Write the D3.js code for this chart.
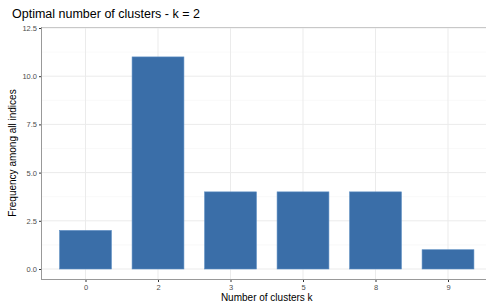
<!DOCTYPE html>
<html lang="en">
<head>
  <meta charset="UTF-8">
  <script src="https://d3js.org/d3.v7.min.js"></script>
  <title>Optimal number of clusters</title>
  <style>
    body { margin: 0; background: white; }
    text { font-family: "Liberation Sans", Arial, sans-serif; }
    .tick text { fill: #4d4d4d; font-size: 7.5px; }
  </style>
</head>
<body>
  <div id="chart"></div>
  <script>
    const clusters = ["0", "2", "3", "5", "8", "9"];
    const frequency = [2, 11, 4, 4, 4, 1];
    const yTicks = [0, 2.5, 5, 7.5, 10, 12.5];

    const width = 486, height = 308;
    const pLeft = 42, pRight = 491.5, pTop = 27, pBottom = 279;

    const svg = d3.select("#chart").append("svg")
      .attr("width", width)
      .attr("height", height);

    // ggplot style discrete axis: 0.6 step expansion on each side
    const x = d3.scalePoint()
      .domain(clusters)
      .range([pLeft, pRight])
      .padding(0.6);
    const barW = x.step() * 0.715;

    const y = d3.scaleLinear().domain([0, 12.5]).range([269, 28]);

    // minor grid
    const minor = d3.range(1.25, 12.5, 2.5);
    svg.append("g").selectAll("line").data(minor).join("line")
      .attr("x1", pLeft).attr("x2", pRight)
      .attr("y1", d => y(d)).attr("y2", d => y(d))
      .attr("stroke", "#f2f2f2").attr("stroke-width", 0.5);

    // major grid
    svg.append("g").selectAll("line").data(yTicks).join("line")
      .attr("x1", pLeft).attr("x2", pRight)
      .attr("y1", d => y(d)).attr("y2", d => y(d))
      .attr("stroke", "#ebebeb").attr("stroke-width", 1);
    svg.append("g").selectAll("line").data(clusters).join("line")
      .attr("x1", d => x(d)).attr("x2", d => x(d))
      .attr("y1", pTop).attr("y2", pBottom)
      .attr("stroke", "#ebebeb").attr("stroke-width", 1);

    // top edge
    svg.append("line")
      .attr("x1", pLeft).attr("x2", pRight).attr("y1", pTop + 0.5).attr("y2", pTop + 0.5)
      .attr("stroke", "#c8c8c8").attr("stroke-width", 1);

    // bars
    svg.append("g").selectAll("rect").data(clusters).join("rect")
      .attr("x", d => x(d) - barW / 2)
      .attr("width", barW)
      .attr("y", (d, i) => y(frequency[i]))
      .attr("height", (d, i) => y(0) - y(frequency[i]))
      .attr("fill", "#3a6ea8")
      .attr("stroke", "#5a8cc2")
      .attr("stroke-width", 0.6);

    // axes
    const yAxis = svg.append("g")
      .attr("transform", `translate(${pLeft},0)`)
      .call(d3.axisLeft(y).tickValues(yTicks).tickFormat(d3.format(".1f")).tickSize(3).tickPadding(2));
    yAxis.select(".domain").remove();
    yAxis.selectAll(".tick line").attr("stroke", "#333");
    svg.append("line")
      .attr("x1", pLeft - 0.5).attr("x2", pLeft - 0.5).attr("y1", pTop).attr("y2", pBottom)
      .attr("stroke", "#999").attr("stroke-width", 1);

    const xAxis = svg.append("g")
      .attr("transform", `translate(0,${pBottom})`)
      .call(d3.axisBottom(x).tickSize(3).tickPadding(3));
    xAxis.select(".domain").remove();
    xAxis.selectAll(".tick line").attr("stroke", "#333");
    svg.append("line")
      .attr("x1", pLeft - 1).attr("x2", pRight).attr("y1", pBottom + 0.5).attr("y2", pBottom + 0.5)
      .attr("stroke", "#999").attr("stroke-width", 1);

    // titles
    svg.append("text")
      .attr("x", 12).attr("y", 18)
      .attr("font-size", 12.5)
      .attr("fill", "#000")
      .text("Optimal number of clusters - k = 2");

    svg.append("text")
      .attr("x", (pLeft + pRight) / 2).attr("y", 301)
      .attr("text-anchor", "middle")
      .attr("font-size", 10)
      .text("Number of clusters k");

    svg.append("text")
      .attr("transform", `translate(16,${(pTop + pBottom) / 2}) rotate(-90)`)
      .attr("text-anchor", "middle")
      .attr("font-size", 10)
      .text("Frequency among all indices");
  </script>
</body>
</html>
